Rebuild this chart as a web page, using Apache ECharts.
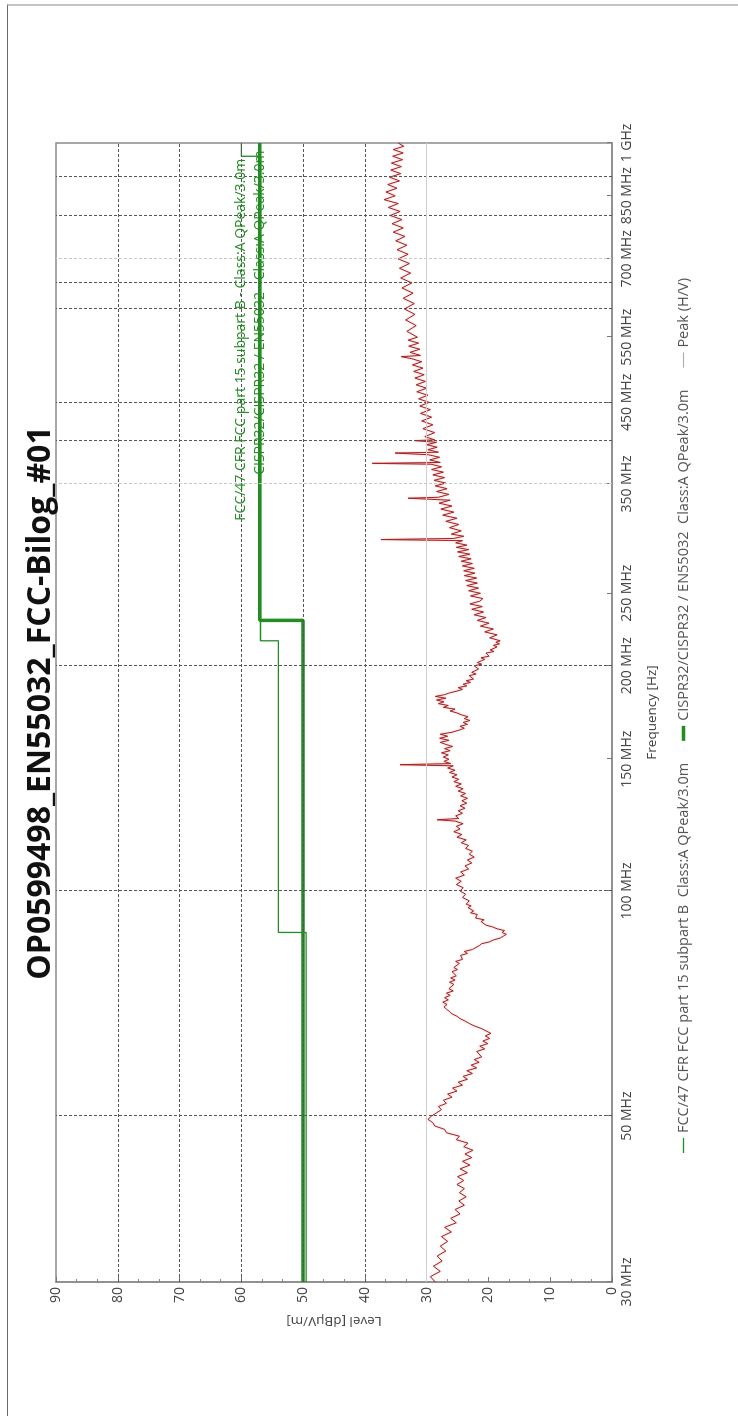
<!DOCTYPE html>
<html>
<head>
<meta charset="utf-8">
<script src="https://cdn.jsdelivr.net/npm/echarts@6/dist/echarts.min.js"></script>
<style>
  html, body { margin: 0; padding: 0; background: #fff; width: 738px; height: 1416px; overflow: hidden; }
  #frame { position: absolute; left: 7px; top: 4px; width: 731px; height: 1412px; z-index: 2; pointer-events: none;
           border-top: 2px solid #c4c4c4; border-left: 1px solid #6a6a6a; box-sizing: border-box; }
  /* the report page is printed in landscape and turned a quarter turn */
  #chart { position: absolute; left: 0; top: 0; width: 1416px; height: 738px; z-index: 1;
           transform-origin: 0 0; transform: translateY(1416px) rotate(-90deg); }
</style>
</head>
<body>
<div id="chart"></div>
<div id="frame"></div>
<script>
const chartTitle = 'OP0599498_EN55032_FCC-Bilog_#01';
const freqAxisName = 'Frequency [Hz]';
const levelAxisName = 'Level [dBµV/m]';

// frequency axis labels (MHz)
const freqTicks = [30, 50, 100, 150, 200, 250, 350, 450, 550, 700, 850, 1000];
// frequency grid lines (MHz)
const freqGridDark = [50, 100, 200, 400, 450, 600, 650, 800, 900];
const freqGridLight = [350, 700];
// level grid lines (dBµV/m)
const levelGridDark = [40, 50, 60, 70, 80];
const levelGridLight = [30];

// limit lines
const fccName = 'FCC/47 CFR FCC part 15 subpart B  Class:A QPeak/3.0m';
const fccLabel = 'FCC/47 CFR FCC part 15 subpart B - Class:A QPeak/3.0m';
const fccFreq  = [30, 88, 88, 216, 216, 960, 960, 1000];
const fccLevel = [49.5, 49.5, 54, 54, 56.9, 56.9, 60, 60];

const cisprName = 'CISPR32/CISPR32 / EN55032  Class:A QPeak/3.0m';
const cisprLabel = 'CISPR32/CISPR32 / EN55032 - Class:A QPeak/3.0m';
const cisprFreq  = [30, 230, 230, 1000];
const cisprLevel = [50, 50, 57, 57];

// measured peak trace [MHz, dBµV/m]
const peakName = 'Peak (H/V)';
const peakTrace = [
  [30,28.6],[30.5,29.4],[31,27.8],[31.5,28.9],[32,27.5],[32.5,28.3],[33,26.9],[33.5,27.8],[34,26.6],[34.5,27.6],
  [35,26.0],[35.5,27.1],[36,25.2],[36.5,26.1],[37,24.6],[37.5,25.4],[38,23.9],[38.5,24.8],[39,23.6],[39.5,24.7],
  [40,23.9],[40.5,25.1],[41,24.0],[41.5,25.0],[42,23.4],[42.5,24.6],[43,23.0],[43.5,24.2],[44,22.7],[44.5,23.8],
  [45,22.5],[45.5,24.0],[46,23.3],[46.5,25.2],[47,24.7],[47.5,26.8],[48,27.1],[48.5,28.7],[49,29.0],[49.5,29.8],
  [50,29.2],[50.5,28.4],[51,27.6],[51.5,28.1],[52,26.8],[52.5,27.3],[53,25.9],[53.5,26.6],[54,25.1],[54.5,25.8],
  [55,24.2],[55.5,24.9],[56,23.4],[56.5,24.1],[57,22.6],[57.5,23.5],[58,21.9],[58.5,22.8],[59,21.5],[59.5,22.3],
  [60,21.1],[61,21.9],[61.5,20.6],[62,21.4],[62.5,20.1],[63,20.9],[63.5,19.8],[64,20.5],[64.5,19.6],[65,20.4],
  [65.5,21.2],[66,22.3],[66.5,23.1],[67,23.8],[67.5,24.6],[68,25.1],[68.5,25.9],[69,26.3],[69.5,26.8],[70,27.2],
  [70.5,26.7],[71,27.4],[71.5,26.5],[72,27.1],[72.5,26.2],[73,26.8],[73.5,25.7],[74,26.4],[75,25.6],[75.5,26.3],
  [76,25.4],[76.5,26.1],[77,25.2],[78,25.9],[78.5,25.0],[79,25.6],[80,24.7],[80.5,25.3],[81,24.2],[82,24.5],
  [82.5,23.4],[83,23.9],[83.5,22.6],[84,22.9],[84.5,21.5],[85,21.1],[85.5,19.8],[86,19.2],[86.5,18.1],[87,17.6],
  [87.5,17.1],[88,17.8],[88.5,17.4],[89,18.6],[89.5,19.3],[90,20.4],[91,21.2],[91.5,20.7],[92,22.1],[93,21.8],
  [93.5,22.9],[94,22.4],[95,23.3],[95.5,22.8],[96,23.6],[97,23.1],[98,24.2],[99,23.7],[100,24.6],[101,24.1],
  [102,25.2],[103,24.4],[104,25.3],[105,23.9],[106,24.5],[107,23.2],[108,23.8],[109,22.7],[110,23.4],[111,22.3],
  [112,23.1],[113,22.6],[114,23.7],[115,23.2],[116,24.4],[117,23.6],[118,25.1],[119,24.3],[120,25.6],[121,24.6],
  [122,25.2],[123,24.1],[124,25.4],[124.5,28.3],[125,24.8],[126,25.3],[127,24.2],[128,24.9],[129,23.8],[130,24.6],
  [131,23.5],[132,24.3],[133,23.4],[134,24.5],[135,23.7],[136,24.9],[137,24.1],[138,25.3],[139,24.4],[140,25.6],
  [141,24.8],[142,25.9],[143,25.1],[144,26.3],[145,25.4],[146,26.6],[147,25.7],[147.5,34.3],[148,26.1],[149,27.2],
  [150,26.4],[151,27.3],[152,26.5],[153,27.6],[154,26.2],[155,27.1],[156,25.8],[157,26.9],[158,27.8],[159,26.4],
  [160,27.9],[161,26.6],[162,27.8],[163,25.9],[164,24.8],[165,23.9],[166,24.6],[167,23.4],[168,24.1],[169,23.0],
  [170,23.9],[171,23.3],[172,24.4],[173,25.1],[174,26.2],[175,25.4],[176,27.3],[177,26.5],[178,28.1],[179,27.2],
  [180,28.4],[181,26.9],[182,28.6],[183,27.1],[184,26.3],[185,25.1],[186,24.2],[187,24.9],[188,23.5],[189,24.1],
  [190,22.9],[191,23.6],[192,22.4],[194,23.1],[195,22.0],[196,22.7],[198,21.6],[200,22.3],[201,21.1],[202,21.8],
  [204,20.6],[205,21.2],[206,19.9],[208,20.4],[209,19.1],[210,19.7],[212,18.6],[213,19.2],[214,18.2],[215,18.8],
  [216,18.1],[218,19.8],[220,18.6],[222,20.6],[224,19.2],[226,21.3],[228,19.9],[230,21.8],[232,20.4],[234,22.3],
  [236,20.8],[238,22.7],[240,21.0],[242,23.0],[244,21.4],[245,21.7],[246,20.9],[248,22.9],[250,21.3],[252,23.2],
  [254,21.6],[256,23.5],[258,21.8],[260,23.7],[262,21.9],[264,23.9],[266,22.2],[268,24.0],[270,22.3],[272,24.2],
  [274,22.6],[276,24.4],[278,22.8],[280,24.8],[282,23.0],[284,25.0],[286,23.2],[288,25.2],[290,23.5],[292,25.3],
  [294,24.2],[295,37.4],[296,25.6],[298,24.0],[300,26.0],[303,24.4],[306,26.3],[309,24.8],[312,26.9],[315,25.1],
  [318,27.4],[321,25.6],[324,27.7],[327,25.9],[330,28.0],[333,26.2],[335,33.0],[336,28.1],[339,26.4],[342,28.4],
  [345,26.7],[348,28.6],[351,26.9],[354,28.8],[357,27.1],[360,29.0],[363,27.3],[366,29.2],[369,27.6],[372,29.3],
  [373,38.8],[374,27.8],[377,29.5],[380,27.9],[383,29.7],[385,35.1],[386,28.1],[389,29.8],[392,28.3],[395,30.0],
  [398,28.4],[400,31.9],[401,28.7],[405,30.3],[410,28.7],[415,30.6],[420,29.0],[425,30.8],[430,29.2],[435,31.0],
  [440,29.4],[445,31.1],[450,29.6],[455,31.3],[460,29.8],[465,31.6],[470,30.0],[475,31.7],[480,30.2],[485,31.9],
  [490,30.4],[495,32.1],[500,30.6],[505,32.3],[510,30.8],[515,32.5],[518,34.1],[520,31.0],[525,32.7],[530,31.1],
  [535,32.9],[540,31.3],[545,33.0],[550,31.5],[560,33.2],[570,31.7],[580,33.4],[590,31.9],[600,33.6],[610,32.0],
  [620,33.8],[630,32.2],[640,34.0],[650,32.4],[660,34.2],[670,32.6],[680,34.4],[690,32.8],[700,34.6],[710,33.0],
  [720,34.8],[730,33.2],[740,35.0],[750,33.5],[760,35.4],[770,33.8],[780,35.6],[790,34.0],[800,35.9],[810,34.3],
  [820,36.2],[830,34.6],[840,36.9],[850,35.1],[860,36.6],[870,34.8],[880,36.3],[890,34.4],[900,36.0],[910,34.2],
  [920,35.8],[930,34.1],[940,35.7],[950,33.9],[960,35.5],[970,33.8],[980,35.4],[990,33.7],[1000,34.6]
];

const FONT = '"Open Sans", "Noto Sans", sans-serif';
const GREEN = '#238c23';
const TRACE = '#a82020';

const zip = (xs, ys) => xs.map((x, i) => [x, ys[i]]);

const gridLines = [
  ...freqGridDark.map(f => ({ xAxis: f, lineStyle: { color: '#555', type: [3, 2], width: 1 } })),
  ...freqGridLight.map(f => ({ xAxis: f, lineStyle: { color: '#c8c8c8', type: [3, 2], width: 1 } })),
  ...levelGridDark.map(v => ({ yAxis: v, lineStyle: { color: '#555', type: [3, 2], width: 1 } })),
  ...levelGridLight.map(v => ({ yAxis: v, lineStyle: { color: '#cfcfcf', type: 'solid', width: 1 } }))
];

const chart = echarts.init(document.getElementById('chart'), null, { renderer: 'canvas' });
chart.setOption({
  animation: false,
  backgroundColor: '#fff',
  title: {
    text: chartTitle,
    left: 708, top: 20, textAlign: 'center',
    textStyle: { fontFamily: FONT, fontSize: 32, fontWeight: 'bold', color: '#111' }
  },
  legend: {
    left: 258, top: 671,
    itemWidth: 15, itemHeight: 12, itemGap: 22,
    symbolKeepAspect: true,
    data: [
      { name: fccName, icon: 'path://M0,0 H15 V1.3 H0 Z' },
      { name: cisprName, icon: 'path://M0,0 H17 V4 H0 Z' },
      { name: peakName, icon: 'path://M0,0 H14 V1 H0 Z', itemStyle: { color: '#b3a6a6' } }
    ],
    textStyle: { fontFamily: FONT, fontSize: 14.5, color: '#555' }
  },
  grid: {
    left: 134, right: 143, top: 56, bottom: 126,
    show: true, borderColor: '#8a8a8a', borderWidth: 1.5, backgroundColor: 'transparent'
  },
  xAxis: {
    type: 'log', logBase: 10, min: 30, max: 1000,
    name: freqAxisName, nameLocation: 'middle', nameGap: 33,
    nameTextStyle: { fontFamily: FONT, fontSize: 13.5, color: '#444' },
    axisLine: { show: true, lineStyle: { color: '#8a8a8a', width: 1.5 } },
    axisTick: { show: true, inside: true, length: 5, customValues: freqTicks, lineStyle: { color: '#777' } },
    axisLabel: {
      customValues: freqTicks, margin: 8,
      fontFamily: FONT, fontSize: 14, color: '#444',
      formatter: v => (v >= 1000 ? (v / 1000) + ' GHz' : v + ' MHz')
    },
    splitLine: { show: false }
  },
  yAxis: {
    type: 'value', min: 0, max: 90, interval: 10,
    name: levelAxisName, nameLocation: 'middle', nameGap: 28,
    nameTextStyle: { fontFamily: FONT, fontSize: 13.5, color: '#444' },
    axisLine: { show: true, lineStyle: { color: '#8a8a8a', width: 1.5 } },
    axisTick: { show: true, inside: true, length: 5, lineStyle: { color: '#777' } },
    minorTick: { show: true, splitNumber: 3, length: 3, lineStyle: { color: '#888' } },
    axisLabel: { margin: 5, fontFamily: FONT, fontSize: 14, color: '#444' },
    splitLine: { show: false }
  },
  series: [
    {
      name: 'grid', type: 'line', data: [], z: 1, silent: true,
      markLine: { silent: true, symbol: ['none', 'none'], label: { show: false }, data: gridLines }
    },
    {
      name: peakName, type: 'line', z: 3, symbol: 'none',
      data: peakTrace,
      lineStyle: { color: TRACE, width: 1, shadowColor: 'rgba(215,120,120,0.55)', shadowBlur: 2 },
      itemStyle: { color: TRACE }
    },
    {
      name: fccName, type: 'line', z: 4, symbol: 'none',
      data: zip(fccFreq, fccLevel),
      lineStyle: { color: GREEN, width: 1.3 }, itemStyle: { color: GREEN },
      markPoint: {
        symbol: 'circle', symbolSize: 1, itemStyle: { color: 'rgba(0,0,0,0)' },
        label: { show: true, position: 'left', distance: 2, color: GREEN, fontFamily: FONT, fontSize: 14,
                 formatter: () => fccLabel },
        data: [{ coord: [fccFreq[fccFreq.length - 2], fccLevel[fccLevel.length - 2]] }]
      }
    },
    {
      name: cisprName, type: 'line', z: 4, symbol: 'none',
      data: zip(cisprFreq, cisprLevel),
      lineStyle: { color: GREEN, width: 3.5 }, itemStyle: { color: GREEN },
      markPoint: {
        symbol: 'circle', symbolSize: 1, itemStyle: { color: 'rgba(0,0,0,0)' },
        label: { show: true, position: 'left', distance: 7, color: GREEN, fontFamily: FONT, fontSize: 14,
                 formatter: () => cisprLabel },
        data: [{ coord: [cisprFreq[cisprFreq.length - 1], cisprLevel[cisprLevel.length - 1]] }]
      }
    }
  ]
});
</script>
</body>
</html>
